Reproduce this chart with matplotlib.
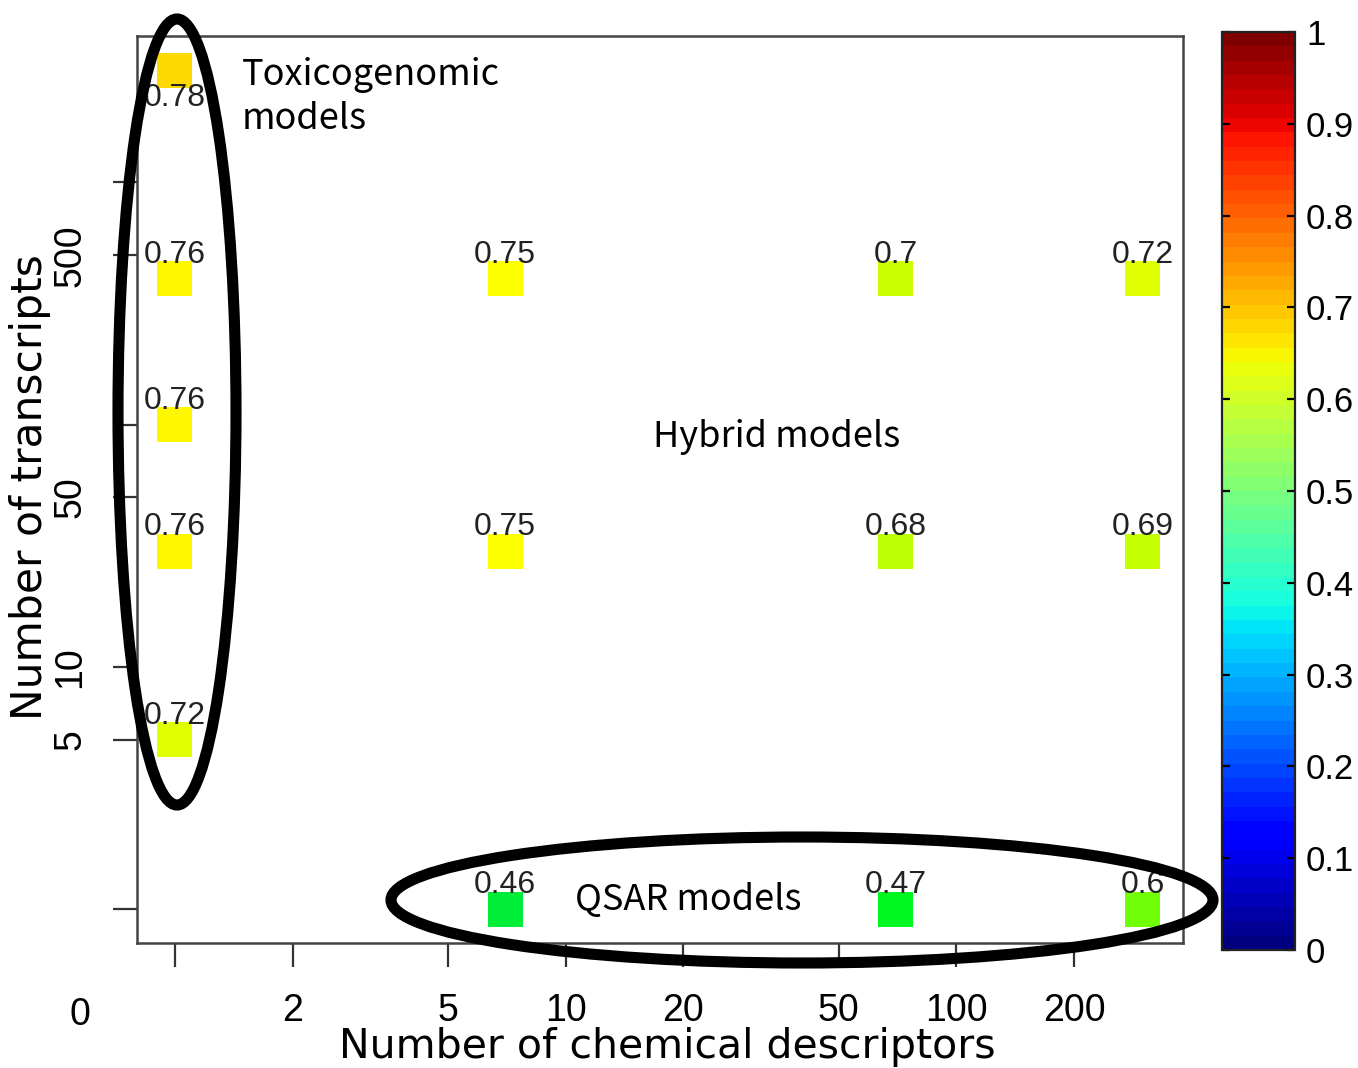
import numpy as np
import matplotlib
matplotlib.use("Agg")
import matplotlib.pyplot as plt
from matplotlib.patches import Ellipse
from matplotlib.colors import LinearSegmentedColormap, Normalize
from matplotlib.cm import ScalarMappable
from matplotlib.ticker import NullLocator

# ---------------- data ----------------
# plot positions on the log axes
desc_pos = [1, 1, 1, 1, 1, 7, 7, 7, 70, 70, 70, 300, 300, 300]
trans_pos = [2900, 400, 100, 30, 5, 400, 30, 1, 400, 30, 1, 400, 30, 1]
auc = [0.78, 0.76, 0.76, 0.76, 0.72, 0.75, 0.75, 0.46, 0.70, 0.68, 0.47, 0.72, 0.69, 0.60]
label_below = [True] + [False] * 13

x_ticks = [1, 2, 5, 10, 20, 50, 100, 200]
x_ticklabels = ["", "2", "5", "10", "20", "50", "100", "200"]
y_ticks = [1, 5, 10, 50, 100, 500, 1000]
y_ticklabels = ["", "5", "10", "50", "", "500", ""]
cb_ticks = [0, 0.1, 0.2, 0.3, 0.4, 0.5, 0.6, 0.7, 0.8, 0.9, 1.0]
cb_ticklabels = ["0", "0.1", "0.2", "0.3", "0.4", "0.5", "0.6", "0.7", "0.8", "0.9", "1"]

# ---------------- layout helpers ----------------
W, H = 1358, 1068
fig = plt.figure(figsize=(W / 100, H / 100), dpi=100)
def fx(px):
    return px / W
def fy(py):
    return 1 - py / H

TICKFONT = "Liberation Sans"
ANNFONT = ["Noto Sans CJK JP", "DejaVu Sans"]

ax = fig.add_axes([fx(137), fy(943), fx(1183) - fx(137), fy(36) - fy(943)])
ax.set_xscale("log")
ax.set_yscale("log")
ax.set_xlim(0.80, 380)
ax.set_ylim(0.724, 4018)

pt_cmap = LinearSegmentedColormap.from_list(
    "pts",
    [(0.0, (0.0, 0.9, 0.3)), (0.08, (0.0, 1.0, 0.05)),
     (0.87, (1.0, 1.0, 0.0)), (1.0, (1.0, 0.75, 0.0))])

ax.scatter(desc_pos, trans_pos, c=auc, cmap=pt_cmap, norm=Normalize(0.45, 0.80),
           marker="s", s=(35 * 0.72) ** 2, linewidths=0, zorder=3)

for x, y, v, below in zip(desc_pos, trans_pos, auc, label_below):
    if below:
        ax.annotate(f"{v:g}", (x, y), xytext=(0, -9), textcoords="offset points",
                    ha="center", va="top", fontsize=23, family=TICKFONT, color="#222222")
    else:
        ax.annotate(f"{v:g}", (x, y), xytext=(0, 11.5), textcoords="offset points",
                    ha="center", va="baseline", fontsize=23, family=TICKFONT, color="#222222")

ax.set_xticks(x_ticks)
ax.set_xticklabels(x_ticklabels, fontsize=27, family=TICKFONT)
ax.set_yticks(y_ticks)
ax.set_yticklabels(y_ticklabels, fontsize=27, family=TICKFONT, rotation=90, va="center")
ax.xaxis.set_minor_locator(NullLocator())
ax.yaxis.set_minor_locator(NullLocator())
ax.tick_params(axis="x", direction="out", length=17, width=1.6, color="#333333", pad=19)
ax.tick_params(axis="y", direction="out", length=17, width=1.6, color="#333333", pad=18)
for sp in ax.spines.values():
    sp.set_linewidth(1.8)
    sp.set_color("#444444")

fig.text(fx(80), fy(1015), "0", ha="center", va="center", fontsize=27, family=TICKFONT)

fig.text(fx(30), fy(487), "Number of transcripts", rotation=90, ha="center", va="center",
         fontsize=30.5, family="DejaVu Sans")
fig.text(fx(667), fy(1058), "Number of chemical descriptors", ha="center", va="baseline",
         fontsize=29.5, family="DejaVu Sans")

ax.text(0.10, 0.933, "Toxicogenomic\nmodels", transform=ax.transAxes, ha="left", va="center",
        fontsize=26, family=ANNFONT, linespacing=1.3)
fig.text(fx(777), fy(437), "Hybrid models", ha="center", va="center", fontsize=26, family=ANNFONT)
fig.text(fx(688), fy(900), "QSAR models", ha="center", va="center", fontsize=26, family=ANNFONT)

e1 = Ellipse((fx(177), fy(412)), 118 / W, 786 / H, transform=fig.transFigure,
             fill=False, lw=8, ec="black", zorder=10)
e2 = Ellipse((fx(802), fy(900)), 822 / W, 126 / H, transform=fig.transFigure,
             fill=False, lw=8, ec="black", zorder=10)
fig.add_artist(e1)
fig.add_artist(e2)

cax = fig.add_axes([fx(1222), fy(950), fx(1295) - fx(1222), fy(32) - fy(950)])
cb = fig.colorbar(ScalarMappable(norm=Normalize(0, 1), cmap=plt.get_cmap("jet", 64)),
                  cax=cax, ticks=cb_ticks)
cb.set_ticklabels(cb_ticklabels)
cb.outline.set_linewidth(1.6)
cb.outline.set_edgecolor("#222222")
cax.tick_params(direction="in", length=6, width=1.6, left=True, right=True,
                labelleft=False, labelright=True, labelsize=25, pad=8)
for t in cax.get_yticklabels():
    t.set_family(TICKFONT)

fig.savefig("out.png", dpi=100)
